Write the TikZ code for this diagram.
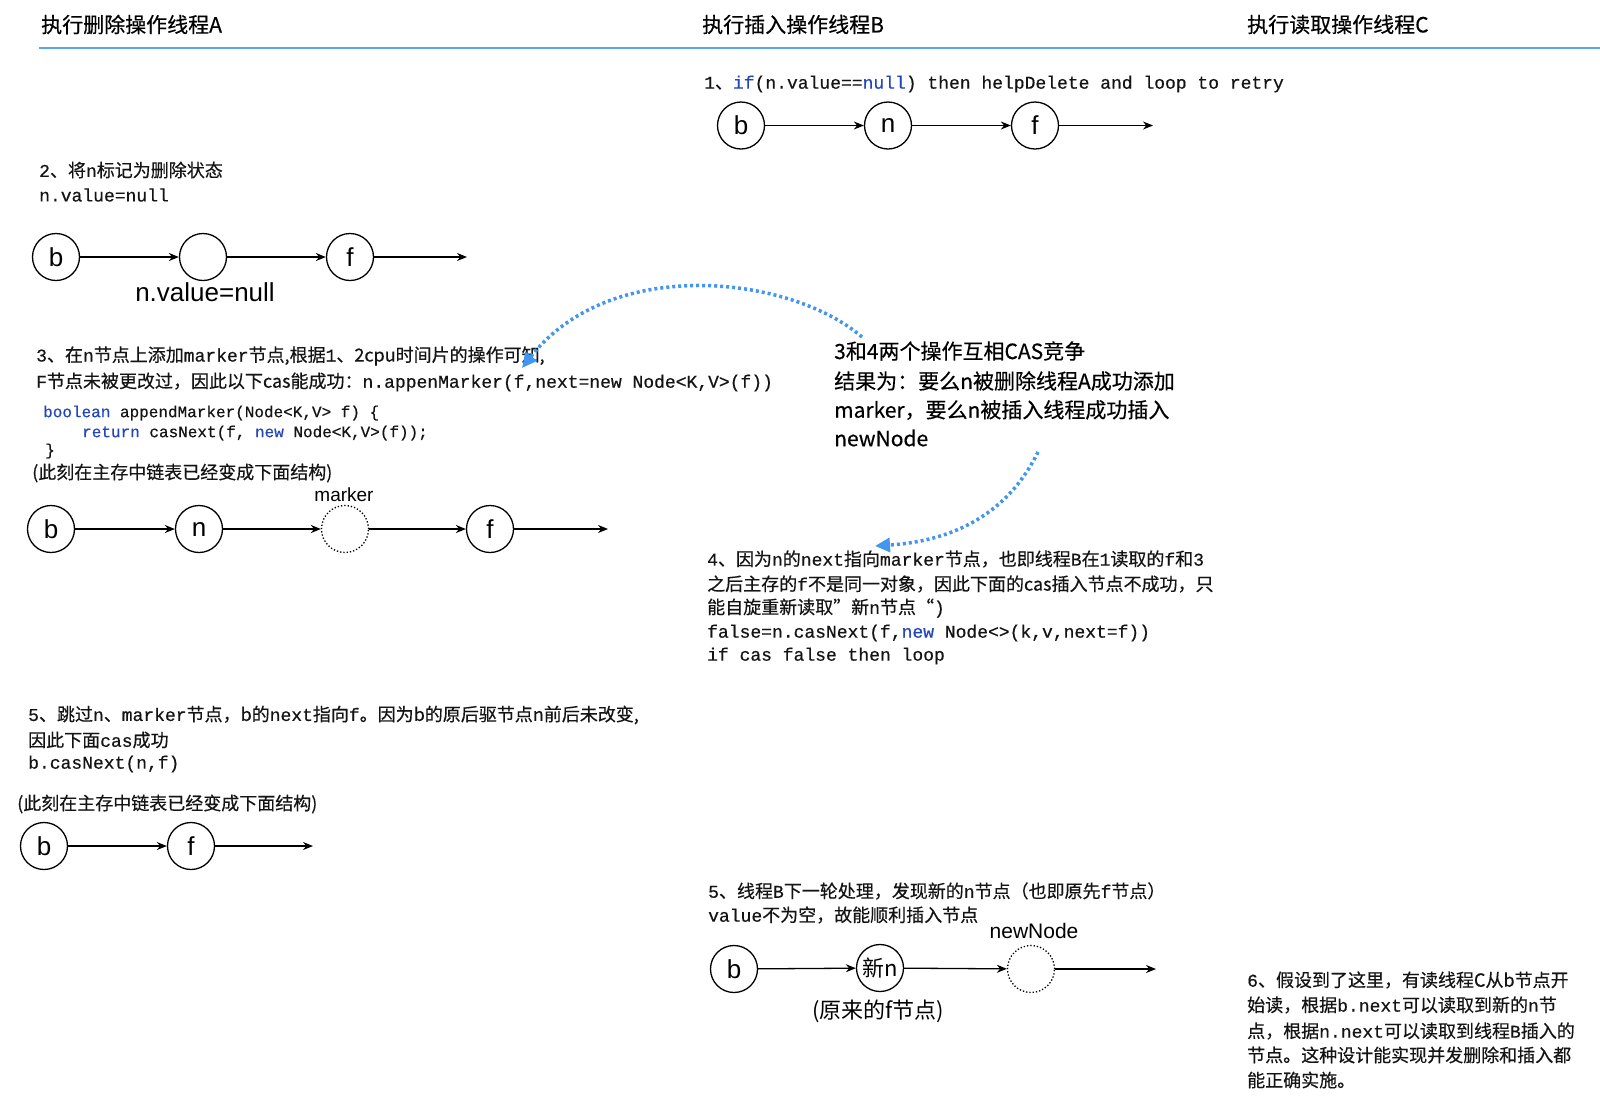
\documentclass[tikz,border=0pt]{standalone}
\usepackage{fontspec}
\setmainfont{Liberation Sans}
\setmonofont[FakeBold=0.5]{Liberation Mono}
\newfontfamily\cjk[FakeBold=0.4]{Noto Sans CJK SC}
\newfontfamily\cjkplain{Noto Sans CJK SC}
\usetikzlibrary{arrows.meta}
\definecolor{kwblue}{RGB}{35,70,190}
\definecolor{arcblue}{RGB}{66,150,240}
\definecolor{hdrblue}{RGB}{90,165,240}
\definecolor{txt}{RGB}{20,20,20}
\newcommand\zh[1]{{\cjk #1}}
\newcommand\kw[1]{\textcolor{kwblue}{#1}}
\tikzset{
  mono/.style={font=\ttfamily\fontsize{18}{20}\selectfont, anchor=west, inner sep=0, text=txt},
  codetxt/.style={font=\ttfamily\fontsize{16}{18}\selectfont, anchor=west, inner sep=0, text=txt},
  zhtxt/.style={font=\cjk\fontsize{18}{21}\selectfont, anchor=west, inner sep=0, text=txt},
  bigtxt/.style={font=\cjk\fontsize{21}{25}\selectfont, anchor=west, inner sep=0, text=black},
  hdr/.style={font=\cjk\fontsize{21}{24}\selectfont, anchor=west, inner sep=0, text=black},
  lbl/.style={font=\fontsize{#1}{#1}\selectfont, inner sep=0, text=black},
  nd/.style={circle, draw, line width=1.3pt, minimum size=47pt, inner sep=0, font=\fontsize{26}{26}\selectfont},
  dnd/.style={nd, dotted},
  arr/.style={-{Stealth[length=10pt,width=8pt]}, line width=1.3pt},
  blarr/.style={draw=arcblue, line width=3.5pt, dash pattern=on 3pt off 3pt, -{Triangle[length=15pt,width=14pt,fill=arcblue]}}
}
\begin{document}
\begin{tikzpicture}[x=1pt,y=-1pt]
\path[use as bounding box, fill=white] (0,0) rectangle (1600,1117);

% header
\node[hdr] (hA) at (41,24.5) {执行删除操作线程A};
\node[hdr] (hB) at (702,24.5) {执行插入操作线程B};
\node[hdr] (hC) at (1247,24.5) {执行读取操作线程C};
\coordinate (hl1) at (39,48);
\coordinate (hl2) at (1600,48);
\draw[hdrblue, line width=2pt] (hl1) -- (hl2);

% step 1
\node[mono] (t1) at (704,84) {1\zh{、}\kw{if}(n.value==\kw{null}) then helpDelete and loop to retry};
\node[nd] (b1) at (741,125.5) {b};
\node[nd] (n1) at (888,125.5) {n};
\node[nd] (f1) at (1035,125.5) {f};
\coordinate (e1) at (1153,125.5);
\draw[arr] (b1) -- (n1);
\draw[arr] (n1) -- (f1);
\draw[arr] (f1) -- (e1);

% step 2
\node[mono] (t2a) at (39,170) {2\zh{、将}n\zh{标记为删除状态}};
\node[mono] (t2b) at (39,195) {n.value=null};
\node[nd] (b2) at (56,257) {b};
\node[nd] (n2) at (203,257) {};
\node[nd] (f2) at (350,257) {f};
\coordinate (e2) at (467,257);
\draw[arr] (b2) -- (n2);
\draw[arr] (n2) -- (f2);
\draw[arr] (f2) -- (e2);
\node[lbl=26] (nv) at (205,292) {n.value=null};

% step 3
\node[mono] (t3a) at (36,356) {3\zh{、在}n\zh{节点上添加}marker\zh{节点,根据}1\zh{、2cpu时间片的操作可知,}};
\node[mono] (t3b) at (36,382) {F\zh{节点未被更改过，因此以下cas能成功：}n.appenMarker(f,next=new Node<K,V>(f))};
\node[codetxt] (c1) at (43,413) {\kw{boolean} appendMarker(Node<K,V> f) \{};
\node[codetxt] (c2) at (82,433) {\kw{return} casNext(f, \kw{new} Node<K,V>(f));};
\node[codetxt] (c3) at (45,451) {\}};
\node[zhtxt] (t3c) at (32,473) {(此刻在主存中链表已经变成下面结构)};
\node[nd] (b3) at (51,529) {b};
\node[nd] (n3) at (199,529) {n};
\node[dnd] (m3) at (345,529) {};
\node[nd] (f3) at (490,529) {f};
\coordinate (e3) at (608,529);
\draw[arr] (b3) -- (n3);
\draw[arr] (n3) -- (m3);
\draw[arr] (m3) -- (f3);
\draw[arr] (f3) -- (e3);
\node[lbl=19] (ml) at (344,495) {marker};

% central note
\node[bigtxt] (k1) at (834,351) {3和4两个操作互相CAS竞争};
\node[bigtxt] (k2) at (834,381) {结果为：要么n被删除线程A成功添加};
\node[bigtxt] (k3) at (834,410) {marker，要么n被插入线程成功插入};
\node[bigtxt] (k4) at (834,438) {newNode};
\coordinate (a1s) at (862,337);
\coordinate (a1e) at (522,368);
\draw[blarr] (a1s) .. controls (790,275) and (610,255) .. (a1e);
\coordinate (a2s) at (1038,452);
\coordinate (a2e) at (875,546);
\draw[blarr] (a2s) .. controls (1012,505) and (965,540) .. (a2e);

% step 4
\node[mono] (t4a) at (707,559) {4\zh{、因为}n\zh{的}next\zh{指向}marker\zh{节点，也即线程}B\zh{在}1\zh{读取的}f\zh{和}3};
\node[mono] (t4b) at (707,584) {\zh{之后主存的}f\zh{不是同一对象，因此下面的cas插入节点不成功，只}};
\node[mono] (t4c) at (707,608) {\zh{能自旋重新读取”新}n\zh{节点“})};
\node[mono] (t4d) at (707,633) {false=n.casNext(f,\kw{new} Node<>(k,v,next=f))};
\node[mono] (t4e) at (707,656) {if cas false then loop};

% step 5 A
\node[mono] (t5a) at (28,715) {5\zh{、跳过}n\zh{、}marker\zh{节点，b的}next\zh{指向}f\zh{。因为b的原后驱节点n前后未改变,}};
\node[mono] (t5b) at (28,740) {\zh{因此下面}cas\zh{成功}};
\node[mono] (t5c) at (28,764) {b.casNext(n,f)};
\node[zhtxt] (t5d) at (17,804) {(此刻在主存中链表已经变成下面结构)};
\node[nd] (b5) at (44,846) {b};
\node[nd] (f5) at (191,846) {f};
\coordinate (e5) at (313,846);
\draw[arr] (b5) -- (f5);
\draw[arr] (f5) -- (e5);

% step 5 B
\node[mono] (t5e) at (708,891) {5\zh{、线程}B\zh{下一轮处理，发现新的}n\zh{节点（也即原先}f\zh{节点）}};
\node[mono] (t5f) at (708,915) {value\zh{不为空，故能顺利插入节点}};
\node[nd] (b6) at (734,969) {b};
\node[nd, font=\cjkplain\fontsize{22}{22}\selectfont] (n6) at (880,968) {新n};
\node[dnd] (w6) at (1031,969) {};
\coordinate (e6) at (1156,969);
\draw[arr] (b6) -- (n6);
\draw[arr] (n6) -- (w6);
\draw[arr] (w6) -- (e6);
\node[lbl=21] (nn) at (1034,931) {newNode};
\node[lbl=22, font=\cjkplain\fontsize{22}{22}\selectfont] (yl) at (878,1011) {(原来的f节点)};

% step 6
\node[mono] (t6a) at (1247,980) {6\zh{、假设到了这里，有读线程C从b节点开}};
\node[mono] (t6b) at (1247,1005) {\zh{始读，根据}b.next\zh{可以读取到新的}n\zh{节}};
\node[mono] (t6c) at (1247,1031) {\zh{点，根据}n.next\zh{可以读取到线程}B\zh{插入的}};
\node[mono] (t6d) at (1247,1055) {\zh{节点。这种设计能实现并发删除和插入都}};
\node[mono] (t6e) at (1247,1080) {\zh{能正确实施。}};
\end{tikzpicture}
\end{document}
